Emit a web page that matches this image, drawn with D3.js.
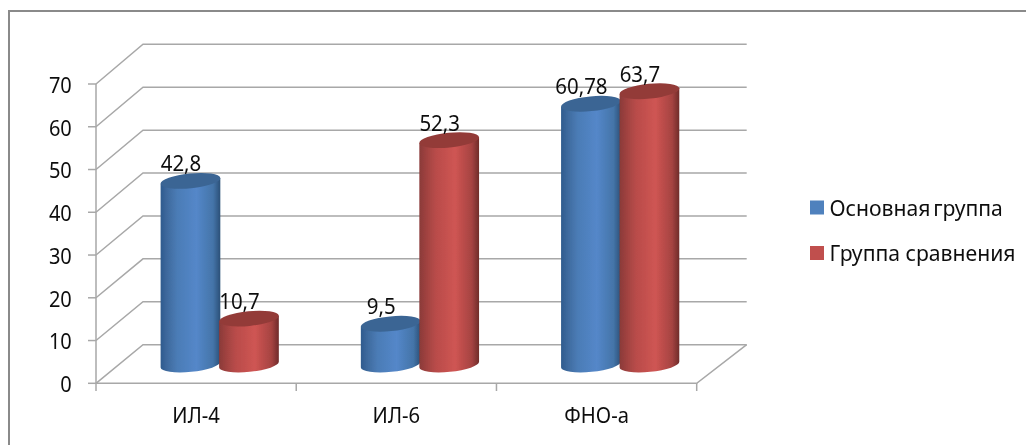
<!DOCTYPE html>
<html lang="ru">
<head>
<meta charset="utf-8">
<script src="https://cdn.jsdelivr.net/npm/d3@7"></script>
<style>
html,body{margin:0;padding:0;background:#fff;overflow:hidden}
svg{display:block}
text{font-family:"Noto Sans","Open Sans",sans-serif;fill:#111}
</style>
</head>
<body>
<svg id="chart" width="1026" height="445"></svg>
<script>
const categories = ["ИЛ-4", "ИЛ-6", "ФНО-а"];
const seriesNames = ["Основная группа", "Группа сравнения"];
const mainGroup = [42.8, 9.5, 60.78];
const comparisonGroup = [10.7, 52.3, 63.7];
const valueLabelsMain = ["42,8", "9,5", "60,78"];
const valueLabelsComparison = ["10,7", "52,3", "63,7"];
const yTicks = [0, 10, 20, 30, 40, 50, 60, 70];

const svg = d3.select("#chart");
const defs = svg.append("defs");

const yFront = d3.scaleLinear().domain([0, 70]).range([383.3, 84]);
const yBack = d3.scaleLinear().domain([0, 70]).range([344.7, 44.3]);
const yBar = d3.scaleLinear().domain([0, 70]).range([364.5, 64.2]);
const xCat = d3.scaleBand().domain(categories).range([96, 696.7]);
const xInner = d3.scaleBand().domain(seriesNames).range([-58.5, 58.5]);
const depthX = 47, rightDepthX = 50, barShift = 23.6, barR = 30, barRy = 7.4, tilt = -5.6;

const styles = [
  {stops:[["0%","#2f5b8e"],["12%","#3f6b9f"],["28%","#4b7cb6"],["60%","#5487c9"],["88%","#4474a8"],["100%","#2c5078"]], top:"#3b6594", swatch:"#4f81bd"},
  {stops:[["0%","#8a3a38"],["12%","#a04240"],["28%","#b94c4a"],["60%","#cf5553"],["88%","#a54341"],["100%","#6f2b2a"]], top:"#933b39", swatch:"#c0504d"}
];
styles.forEach((s,i)=>{
  const g = defs.append("linearGradient").attr("id","cyl"+i).attr("x1","0").attr("x2","1").attr("y1","0").attr("y2","0");
  s.stops.forEach(d=>g.append("stop").attr("offset",d[0]).attr("stop-color",d[1]));
});
const blur = defs.append("filter").attr("id","soft").attr("filterUnits","userSpaceOnUse")
  .attr("x",0).attr("y",0).attr("width",1026).attr("height",445);
blur.append("feGaussianBlur").attr("stdDeviation",0.45);

const root = svg.append("g").attr("filter","url(#soft)");
const grey = "#a8a8a8";

// frame
root.append("path").attr("d","M9,445V11H1026").attr("fill","none").attr("stroke","#8a8a8a").attr("stroke-width",2);

// walls: gridlines
root.append("g").selectAll("path").data(yTicks).join("path")
  .attr("d",d=>`M${96},${yFront(d)}L${96+depthX},${yBack(d)}H${696.7+rightDepthX}`)
  .attr("fill","none").attr("stroke",grey).attr("stroke-width",1.5);

// floor and axes
root.append("path").attr("d",`M96,${yFront(70)}V${yFront(0)}H696.7L${696.7+rightDepthX},${yBack(0)}`)
  .attr("fill","none").attr("stroke",grey).attr("stroke-width",1.5);
root.append("g").selectAll("line").data(yTicks).join("line")
  .attr("x1",88).attr("x2",96).attr("y1",d=>yFront(d)).attr("y2",d=>yFront(d))
  .attr("stroke",grey).attr("stroke-width",1.5);
const xEdges = categories.map(c=>xCat(c)).concat([696.7]);
root.append("g").selectAll("line").data(xEdges).join("line")
  .attr("x1",d=>d).attr("x2",d=>d).attr("y1",383).attr("y2",391)
  .attr("stroke",grey).attr("stroke-width",1.5);

// y tick labels
root.append("g").selectAll("text").data(yTicks).join("text")
  .attr("transform",d=>`translate(71.8,${yFront(d)+8.8}) scale(0.91,1)`).attr("text-anchor","end")
  .attr("font-size",22).text(d=>d);

// category labels
root.append("g").selectAll("text").data(categories).join("text")
  .attr("transform",d=>`translate(${xCat(d)+xCat.bandwidth()/2},423) scale(0.92,1)`).attr("text-anchor","middle")
  .attr("font-size",22).text(d=>d);

// cylinders
function cylinder(g, cx, val, i){
  const a = tilt*Math.PI/180;
  const dx = barR*Math.cos(a), dy = barR*Math.sin(a);
  const yt = yBar(val), yb = yBar(0);
  g.append("path")
    .attr("d",`M${cx-dx},${yt-dy}L${cx-dx},${yb-dy}A${barR},${barRy} ${tilt} 0 0 ${cx+dx},${yb+dy}L${cx+dx},${yt+dy}Z`)
    .attr("fill",`url(#cyl${i})`);
  g.append("ellipse").attr("cx",0).attr("cy",0).attr("rx",barR).attr("ry",barRy)
    .attr("transform",`translate(${cx},${yt}) rotate(${tilt})`)
    .attr("fill",styles[i].top);
}
const seriesValues = [mainGroup, comparisonGroup];
const seriesLabels = [valueLabelsMain, valueLabelsComparison];
const barsG = root.append("g");
categories.forEach((c,ci)=>{
  seriesNames.forEach((s,si)=>{
    const cx = xCat(c)+xCat.bandwidth()/2+barShift+xInner(s)+xInner.bandwidth()/2;
    cylinder(barsG, cx, seriesValues[si][ci], si);
  });
});
categories.forEach((c,ci)=>{
  seriesNames.forEach((s,si)=>{
    const cx = xCat(c)+xCat.bandwidth()/2+barShift+xInner(s)+xInner.bandwidth()/2;
    root.append("text")
      .attr("transform",`translate(${cx-9.5},${yBar(seriesValues[si][ci])-9.5}) scale(0.93,1)`)
      .attr("text-anchor","middle").attr("font-size",22).text(seriesLabels[si][ci]);
  });
});

// legend
const leg = root.append("g").selectAll("g").data(seriesNames).join("g");
leg.append("rect").attr("x",810).attr("y",(d,i)=>200.5+i*45.5).attr("width",14).attr("height",14)
  .attr("fill",(d,i)=>styles[i].swatch);
leg.append("text").attr("transform",(d,i)=>`translate(829.5,${216+i*44.8}) scale(0.945,1)`)
  .attr("font-size",22.4).attr("word-spacing",(d,i)=>i===0?-3:0).text(d=>d);
</script>
</body>
</html>
